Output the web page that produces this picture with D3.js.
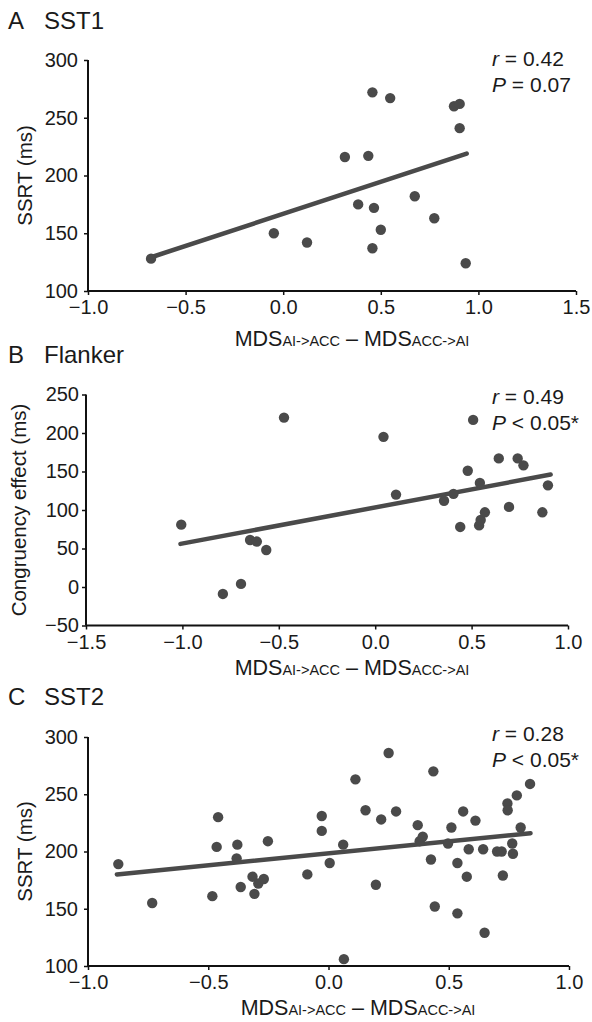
<!DOCTYPE html>
<html>
<head>
<meta charset="utf-8">
<script src="https://cdn.jsdelivr.net/npm/d3@7"></script>
<style>
  body { margin: 0; background: white; }
  svg text { font-family: "Liberation Sans", Arial, Helvetica, sans-serif; fill: #1a1a1a; }
</style>
</head>
<body>
<div id="chart"></div>
<script>
// panel A: SST1
const sst1X = [-0.677, -0.048, 0.122, 0.316, 0.384, 0.436, 0.457, 0.465, 0.457, 0.50, 0.548, 0.674, 0.774, 0.875, 0.904, 0.904, 0.935];
const sst1Y = [128, 150, 142, 216, 175, 217, 272, 172, 137, 153, 267, 182, 163, 260, 262, 241, 124];
const sst1Fit = [[-0.68, 129], [0.94, 219]];
const sst1XTicks = [-1.0, -0.5, 0.0, 0.5, 1.0, 1.5];
const sst1YTicks = [100, 150, 200, 250, 300];

// panel B: Flanker
const flankerX = [-1.006, -0.79, -0.696, -0.649, -0.614, -0.565, -0.473, 0.043, 0.108, 0.357, 0.406, 0.441, 0.48, 0.508, 0.543, 0.539, 0.547, 0.569, 0.641, 0.694, 0.739, 0.769, 0.867, 0.896];
const flankerY = [81, -9, 4, 61, 59, 48, 220, 195, 120, 112, 121, 78, 151, 217, 135, 80, 87, 97, 167, 104, 167, 158, 97, 132];
const flankerFit = [[-1.01, 56], [0.91, 146]];
const flankerXTicks = [-1.5, -1.0, -0.5, 0.0, 0.5, 1.0];
const flankerYTicks = [-50, 0, 50, 100, 150, 200, 250];

// panel C: SST2
const sst2X = [-0.874, -0.733, -0.483, -0.465, -0.459, -0.379, -0.382, -0.365, -0.316, -0.308, -0.292, -0.269, -0.252, -0.088, -0.028, -0.028, 0.005, 0.061, 0.064, 0.112, 0.154, 0.197, 0.219, 0.25, 0.281, 0.371, 0.379, 0.392, 0.426, 0.436, 0.442, 0.497, 0.511, 0.536, 0.536, 0.56, 0.575, 0.583, 0.611, 0.643, 0.649, 0.701, 0.72, 0.725, 0.744, 0.745, 0.764, 0.767, 0.783, 0.799, 0.838];
const sst2Y = [189, 155, 161, 204, 230, 206, 194, 169, 178, 163, 172, 176, 209, 180, 231, 218, 190, 206, 106, 263, 236, 171, 228, 286, 235, 223, 209, 213, 193, 270, 152, 207, 221, 190, 146, 235, 178, 202, 227, 202, 129, 200, 200, 179, 242, 236, 207, 198, 249, 221, 259];
const sst2Fit = [[-0.88, 180], [0.84, 216]];
const sst2XTicks = [-1.0, -0.5, 0.0, 0.5, 1.0];
const sst2YTicks = [100, 150, 200, 250, 300];

const wSvg = 592;
const hSvg = 1022;
const dotColor = "#4a4a4a";

let svg = d3.select("#chart")
    .append("svg")
    .attr("width", wSvg)
    .attr("height", hSvg);

function renderPanel (p) {
    let xScale = d3.scaleLinear([p.xTicks[0], p.xTicks[p.xTicks.length - 1]], [p.left, p.right]);
    let yScale = d3.scaleLinear([p.yTicks[0], p.yTicks[p.yTicks.length - 1]], [p.bottom, p.top]);
    let g = svg.append("g");

    // panel letter and title
    g.append("text").attr("x", 8).attr("y", p.titleY).style("font-size", "24px").text(p.letter);
    g.append("text").attr("x", 44).attr("y", p.titleY).style("font-size", "24px").text(p.title);

    let xAxis = d3.axisBottom(xScale).tickValues(p.xTicks).tickFormat(d3.format(".1f")).tickSize(4).tickPadding(5);
    let yAxis = d3.axisLeft(yScale).tickValues(p.yTicks).tickFormat(d3.format("d")).tickSize(4).tickPadding(p.yPad);

    g.append("g")
        .attr("transform", `translate(0, ${p.bottom})`)
        .call(xAxis)
        .call(a => a.select(".domain").attr("d", `M${p.left},0H${p.right}`));
    g.append("g")
        .attr("transform", `translate(${p.left}, 0)`)
        .call(yAxis)
        .call(a => a.select(".domain").attr("d", `M0,${p.top}V${p.bottom}`));

    g.selectAll(".tick text")
        .style("font-size", "20px")
        .attr("fill", "#1a1a1a");
    g.selectAll(".domain")
        .attr("stroke", "#111")
        .attr("stroke-width", 2);
    g.selectAll(".tick line")
        .attr("stroke", "#111")
        .attr("stroke-width", 1.5);

    // regression line
    g.append("line")
        .attr("x1", xScale(p.fit[0][0]))
        .attr("y1", yScale(p.fit[0][1]))
        .attr("x2", xScale(p.fit[1][0]))
        .attr("y2", yScale(p.fit[1][1]))
        .attr("stroke", dotColor)
        .attr("stroke-width", 4.5)
        .attr("stroke-linecap", "round");

    g.append("g")
        .selectAll("circle")
        .data(p.xs)
        .enter()
        .append("circle")
        .attr("cx", (d, i) => xScale(d))
        .attr("cy", (d, i) => yScale(p.ys[i]))
        .attr("r", 5.2)
        .attr("fill", dotColor);

    // y label
    g.append("text")
        .attr("transform", `translate(${p.yLabelX}, ${(p.top + p.bottom) / 2}) rotate(-90)`)
        .attr("text-anchor", "middle")
        .attr("dy", "0.35em")
        .style("font-size", "20.5px")
        .text(p.yLabel);

    // x label with small-cap subscripts
    let xl = g.append("text")
        .attr("x", p.xLabelX)
        .attr("y", p.xLabelY)
        .attr("text-anchor", "middle")
        .style("font-size", "21.5px");
    xl.append("tspan").text("MDS");
    xl.append("tspan").style("font-size", "14.5px").text("AI->ACC");
    xl.append("tspan").text(" \u2013 MDS");
    xl.append("tspan").style("font-size", "14.5px").text("ACC->AI");

    // stats
    let r = g.append("text").attr("x", 492).attr("y", p.statY).style("font-size", "21px");
    r.append("tspan").style("font-style", "italic").text("r");
    r.append("tspan").text(" = " + p.r);
    let pv = g.append("text").attr("x", 492).attr("y", p.statY + 26).style("font-size", "21px");
    pv.append("tspan").style("font-style", "italic").text("P");
    pv.append("tspan").text(p.p);
}

renderPanel({
    letter: "A", title: "SST1", titleY: 29,
    xs: sst1X, ys: sst1Y, fit: sst1Fit, xTicks: sst1XTicks, yTicks: sst1YTicks,
    left: 88, right: 576, top: 60, bottom: 291, yPad: 6,
    yLabel: "SSRT (ms)", yLabelX: 25, xLabelX: 352, xLabelY: 346,
    statY: 66, r: "0.42", p: " = 0.07"
});

renderPanel({
    letter: "B", title: "Flanker", titleY: 363,
    xs: flankerX, ys: flankerY, fit: flankerFit, xTicks: flankerXTicks, yTicks: flankerYTicks,
    left: 86, right: 568, top: 394.5, bottom: 625.5, yPad: 3,
    yLabel: "Congruency effect (ms)", yLabelX: 19, xLabelX: 352, xLabelY: 675,
    statY: 404, r: "0.49", p: " < 0.05*"
});

renderPanel({
    letter: "C", title: "SST2", titleY: 705,
    xs: sst2X, ys: sst2Y, fit: sst2Fit, xTicks: sst2XTicks, yTicks: sst2YTicks,
    left: 88, right: 569, top: 737, bottom: 966, yPad: 6,
    yLabel: "SSRT (ms)", yLabelX: 25, xLabelX: 358, xLabelY: 1015,
    statY: 741, r: "0.28", p: " < 0.05*"
});
</script>
</body>
</html>
